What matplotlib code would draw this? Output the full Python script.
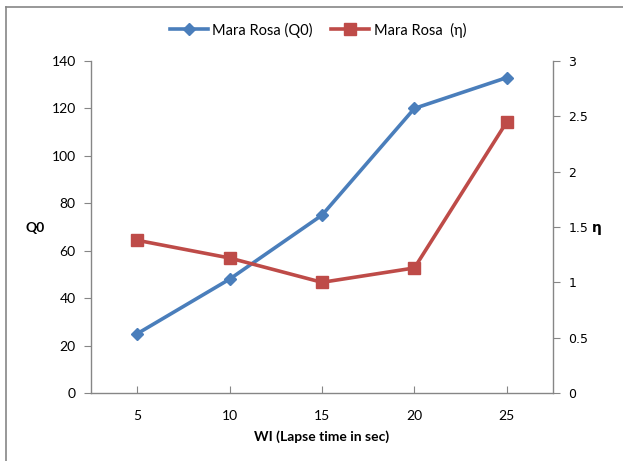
import matplotlib
matplotlib.use('Agg')
import matplotlib.pyplot as plt
from matplotlib.lines import Line2D

# data
lapse = [5, 10, 15, 20, 25]
q0 = [25, 48, 75, 120, 133]
eta = [1.38, 1.22, 1.0, 1.13, 2.45]

BLUE = '#4A7EBB'
RED = '#BE4B48'
GREY = '#868686'

plt.rcParams['font.family'] = ['Lato', 'DejaVu Sans']

fig = plt.figure(figsize=(6.23, 4.61), dpi=100)
ax = fig.add_axes([91 / 623, 1 - 393 / 461, (553 - 91) / 623, (393 - 61) / 461])
ax2 = ax.twinx()

ax.plot(lapse, q0, color=BLUE, lw=2.6, marker='D', ms=6.5, mec=BLUE, mfc=BLUE,
        label='Mara Rosa (Q0)', zorder=3)
ax2.plot(lapse, eta, color=RED, lw=2.6, marker='s', ms=8.5, mec=RED, mfc=RED,
         label='Mara Rosa  (η)', zorder=3)

ax.set_xlim(2.5, 27.5)
ax.set_ylim(0, 140)
ax.set_yticks(range(0, 141, 20))
ax2.set_ylim(0, 3)
ax2.set_yticks([0, 0.5, 1, 1.5, 2, 2.5, 3])
ax2.set_yticklabels(['0', '0.5', '1', '1.5', '2', '2.5', '3'], family='DejaVu Sans')

ax.set_xticks(lapse)
ax.set_xticks([2.5, 27.5], minor=True)
ax.tick_params(axis='x', which='both', direction='in', length=5, color=GREY,
               labelsize=10, pad=12)
ax.tick_params(axis='y', direction='out', length=5, color=GREY, labelsize=10, pad=6)
ax2.tick_params(axis='y', direction='out', length=5, color=GREY, labelsize=9, pad=6)

for a in (ax, ax2):
    for s in a.spines.values():
        s.set_visible(False)
ax.spines['left'].set_visible(True)
ax.spines['bottom'].set_visible(True)
ax2.spines['right'].set_visible(True)
for s in (ax.spines['left'], ax.spines['bottom'], ax2.spines['right']):
    s.set_color(GREY)
    s.set_linewidth(1)

ax.set_xlabel('WI (Lapse time in sec)', fontsize=10, fontweight='bold', labelpad=6)
fig.text(35 / 623, 1 - 228 / 461, 'Q0', fontsize=10, fontweight='bold',
         ha='center', va='center')
fig.text(597 / 623, 1 - 228 / 461, 'η', fontsize=10, fontweight='bold',
         ha='center', va='center', family='DejaVu Sans')

handles = [Line2D([], [], color=BLUE, lw=2.6, marker='D', ms=6.5),
           Line2D([], [], color=RED, lw=2.6, marker='s', ms=8.5)]
fig.legend(handles, ['Mara Rosa (Q0)', 'Mara Rosa  (η)'], loc='center',
           bbox_to_anchor=(318 / 623, 1 - 30 / 461), ncol=2, frameon=False,
           fontsize=10.5, handlelength=2.6, handletextpad=0.3, columnspacing=1.3)

# chart border (only top and left visible in the crop)
fig.add_artist(Line2D([6 / 623, 6 / 623], [0, 1 - 7 / 461], transform=fig.transFigure,
                      color=GREY, lw=1.2))
fig.add_artist(Line2D([6 / 623, 1], [1 - 7 / 461, 1 - 7 / 461], transform=fig.transFigure,
                      color=GREY, lw=1.2))

fig.savefig('out.png', dpi=100, facecolor='white')
